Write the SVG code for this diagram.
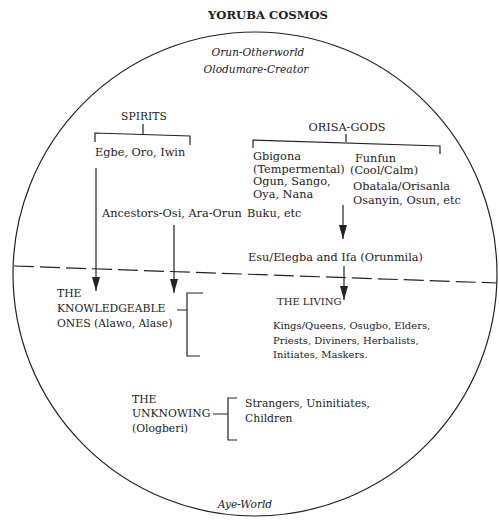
<svg xmlns="http://www.w3.org/2000/svg" width="499" height="520" viewBox="0 0 499 520">
<defs>
<style>
text{font-family:"DejaVu Serif","Liberation Serif",serif;font-size:11.3px;fill:#222}
.t{font-weight:bold;font-size:11.6px}
.i{font-style:italic;font-size:10.6px}
.s{font-size:10px}
.c{font-size:10.8px}
.ln{stroke:#222;stroke-width:1.2;fill:none}
.ar{stroke:#222;stroke-width:1.2;fill:none;marker-end:url(#ah)}
</style>
<marker id="ah" markerUnits="userSpaceOnUse" markerWidth="14" markerHeight="8" refX="14" refY="4" orient="auto" viewBox="0 0 14 8">
<path d="M0,0 L14,4 L0,8 Z" fill="#222"/>
</marker>
</defs>
<rect width="499" height="520" fill="#fff"/>
<g id="title"><text class="t" x="268" y="19" text-anchor="middle">YORUBA COSMOS</text></g>
<g id="cosmos"><ellipse class="ln" cx="255" cy="274" rx="242" ry="242"/></g>
<g id="orun">
<text class="i" x="258" y="56" text-anchor="middle">Orun-Otherworld</text>
<text class="i" x="256" y="73" text-anchor="middle">Olodumare-Creator</text>
</g>
<g id="spirits">
<text class="c" x="144" y="120" text-anchor="middle">SPIRITS</text>
<path class="ln" d="M143,124 V134 M95,142 V133 L190,136 V145"/>
<text x="95" y="156">Egbe, Oro, Iwin</text>
</g>
<g id="orisa">
<text x="347" y="131" text-anchor="middle">ORISA-GODS</text>
<path class="ln" d="M346,134 V142 M253,148 V140 L440,146 V154"/>
</g>
<g id="gbigona">
<text x="253" y="160">Gbigona</text>
<text x="253" y="173">(Tempermental)</text>
<text x="253" y="185">Ogun, Sango,</text>
<text x="253" y="198">Oya, Nana</text>
<text x="247" y="217">Buku, etc</text>
</g>
<g id="funfun">
<text x="355" y="162">Funfun</text>
<text x="350" y="174">(Cool/Calm)</text>
<text x="353" y="190">Obatala/Orisanla</text>
<text x="353" y="204">Osanyin, Osun, etc</text>
</g>
<g id="ancestors"><text x="102" y="217">Ancestors-Osi, Ara-Orun</text></g>
<g id="esu"><text x="248" y="261">Esu/Elegba and Ifa (Orunmila)</text></g>
<g id="knowledgeable">
<text class="c" x="57" y="297">THE</text>
<text class="c" x="57" y="312">KNOWLEDGEABLE</text>
<text class="c" x="57" y="327">ONES (Alawo, Alase)</text>
</g>
<g id="living">
<text class="s" x="277" y="305">THE LIVING</text>
<text class="s" x="273" y="329">Kings/Queens, Osugbo, Elders,</text>
<text class="s" x="273" y="344">Priests, Diviners, Herbalists,</text>
<text class="s" x="273" y="358">Initiates, Maskers.</text>
</g>
<g id="unknowing">
<text class="c" x="132" y="403">THE</text>
<text class="c" x="132" y="417">UNKNOWING</text>
<text class="c" x="132" y="432">(Ologberi)</text>
</g>
<g id="strangers">
<text class="c" x="245" y="407">Strangers, Uninitiates,</text>
<text class="c" x="245" y="422">Children</text>
</g>
<g id="aye"><text class="i" x="245" y="508" text-anchor="middle">Aye-World</text></g>
<g id="connectors">
<path d="M14,266 L497,283" stroke="#222" stroke-width="1.2" stroke-dasharray="20 6" fill="none"/>
<path class="ar" d="M96,168 V291"/>
<path class="ar" d="M174,225 V293"/>
<path class="ar" d="M343,205 V239"/>
<path class="ar" d="M344,266 V300"/>
<path class="ln" d="M177,310 H187 M203,293 H187 V356 H200"/>
<path class="ln" d="M213,414 H228 M237,398 H228 V440 H237"/>
</g>
</svg>
